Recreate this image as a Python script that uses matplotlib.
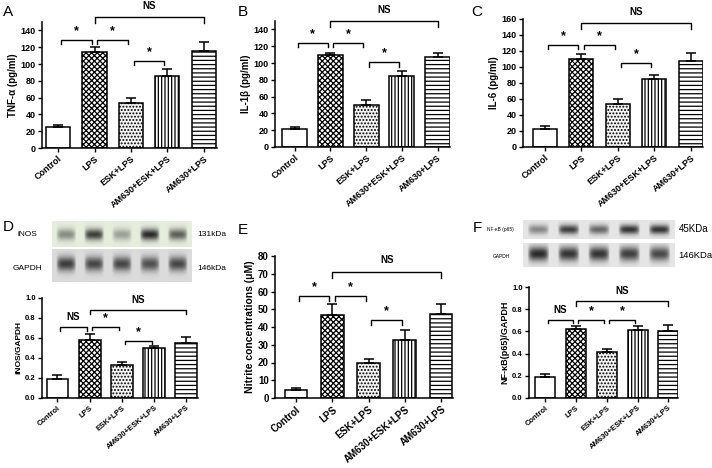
import numpy as np
import matplotlib.pyplot as plt

# Cytokine / western blot panels A-F
plt.rcParams['font.family'] = ['Liberation Sans', 'DejaVu Sans']
plt.rcParams['hatch.linewidth'] = 0.9

groups = ['Control', 'LPS', 'ESK+LPS', 'AM630+ESK+LPS', 'AM630+LPS']

tnf = [25, 114, 54, 86, 115]
tnf_err = [2, 6, 6, 8, 11]
il1b = [21.5, 109, 50, 85, 107]
il1b_err = [2.5, 3, 5.5, 6, 5]
il6 = [23, 110, 54, 85, 107]
il6_err = [3.5, 6, 5.5, 5, 11]
inos = [0.19, 0.58, 0.33, 0.50, 0.555]
inos_err = [0.045, 0.06, 0.035, 0.02, 0.055]
nitrite = [4.3, 46.5, 20, 32.8, 47.2]
nitrite_err = [1.3, 6.5, 2, 5.6, 5.8]
nfkb = [0.188, 0.62, 0.41, 0.617, 0.606]
nfkb_err = [0.027, 0.03, 0.03, 0.033, 0.05]

# significance brackets: (from, to, height, label)
tnf_sig = [(0, 1, 129, '*'), (1, 2, 129, '*'), (2, 3, 104, '*'), (1, 4, 156, 'NS')]
il1b_sig = [(0, 1, 124, '*'), (1, 2, 124, '*'), (2, 3, 101, '*'), (1, 4, 150, 'NS')]
il6_sig = [(0, 1, 128, '*'), (1, 2, 128, '*'), (2, 3, 105, '*'), (1, 4, 155, 'NS')]
inos_sig = [(0, 1, 0.71, 'NS'), (1, 2, 0.715, '*'), (2, 3, 0.575, '*'), (1, 4, 0.885, 'NS')]
nitrite_sig = [(0, 1, 57.5, '*'), (1, 2, 57.5, '*'), (2, 3, 43.7, '*'), (1, 4, 71.2, 'NS')]
nfkb_sig = [(0, 1, 0.707, 'NS'), (1, 2, 0.707, '*'), (2, 3, 0.707, '*'), (1, 4, 0.875, 'NS')]

# blot band intensities (lane order = groups)
inos_bands = [0.45, 0.8, 0.35, 0.9, 0.65]
gapdh_d_bands = [0.8, 0.75, 0.75, 0.7, 0.75]
p65_bands = [0.45, 0.8, 0.6, 0.85, 0.85]
gapdh_f_bands = [0.9, 0.85, 0.85, 0.8, 0.75]

hatches = ['', 'xxxxxx', '.....', '|||||', '----']
faces = ['white', 'white', '#f4f4f4', 'white', 'white']

W, H = 712, 468
fig = plt.figure(figsize=(W / 100, H / 100), dpi=100)


def px_axes(x0, y0, x1, y1):
    return fig.add_axes([x0 / W, 1 - y1 / H, (x1 - x0) / W, (y1 - y0) / H])


def bar_panel(rect, vals, errs, ylim, yticks, ylabel, sig, xlim, width, fs=6.5, lfs=7):
    ax = px_axes(*rect)
    x = np.arange(len(vals))
    for i in range(len(vals)):
        ax.bar(x[i], vals[i], width, color=faces[i], edgecolor='black',
               hatch=hatches[i], linewidth=1.1, zorder=2)
    ax.errorbar(x, vals, yerr=[np.zeros(len(errs)), errs], fmt='none', ecolor='black',
                elinewidth=1.1, capsize=3.5, capthick=1.1, zorder=3)
    ax.set_xlim(*xlim)
    ax.set_ylim(*ylim)
    ax.set_yticks(yticks)
    ax.set_xticks(x)
    ax.set_xticklabels(groups, rotation=40, ha='right', rotation_mode='anchor',
                       fontsize=fs, fontweight='bold')
    for t in ax.get_yticklabels():
        t.set_fontweight('bold')
        t.set_fontsize(fs)
    ax.set_ylabel(ylabel, fontsize=lfs, fontweight='bold', labelpad=2)
    ax.spines['top'].set_visible(False)
    ax.spines['right'].set_visible(False)
    ax.spines['left'].set_linewidth(1.1)
    ax.spines['bottom'].set_linewidth(1.1)
    ax.tick_params(direction='out', length=3, width=1, pad=1.5)
    span = ylim[1] - ylim[0]
    for a, b, y, lab in sig:
        if b - a == 1:
            xa, xb = a + 0.08, b - 0.08
            tick = 0.035 * span
        else:
            xa, xb = a, b
            tick = 0.045 * span
        ax.plot([xa, xa, xb, xb], [y - tick, y, y, y - tick], color='black',
                lw=1.0, clip_on=False, zorder=4)
        if lab == '*':
            ax.text((a + b) / 2, y + 0.02 * span, lab, ha='center', va='bottom',
                    fontsize=9, fontweight='bold', clip_on=False)
        else:
            ax.text((a + b) / 2, y + 0.045 * span, lab, ha='center', va='bottom',
                    fontsize=7, fontweight='bold', clip_on=False)
    return ax


def blot(rect, bands, bg, band_y=0.5, band_h=0.22, band_w=0.36):
    ax = px_axes(*rect)
    h, w = 60, 250
    ys = np.linspace(0, 1, h)[:, None]
    xs = np.linspace(0, len(bands), w)[None, :]
    dark = np.zeros((h, w))
    for k, v in enumerate(bands):
        px = np.clip(1 - np.abs((xs - (k + 0.5)) / band_w) ** 4, 0, 1)
        py = np.exp(-((ys - band_y) / band_h) ** 2)
        dark = np.maximum(dark, v * px * py)
    img = np.array(bg)[None, None, :] * (1 - dark[:, :, None]) + 0.08 * dark[:, :, None]
    ax.imshow(img, aspect='auto', interpolation='bilinear')
    ax.axis('off')
    return ax


# top row
bar_panel((42, 22, 217, 148), tnf, tnf_err, (0, 150), range(0, 141, 20),
          'TNF-\u03b1 (pg/ml)', tnf_sig, (-0.44, 4.36), 0.66)
bar_panel((275, 21, 450, 147), il1b, il1b_err, (0, 150), range(0, 141, 20),
          'IL-1\u03b2 (pg/ml)', il1b_sig, (-0.55, 4.35), 0.7)
bar_panel((523, 19, 703, 147), il6, il6_err, (0, 160), range(0, 161, 20),
          'IL-6 (pg/ml)', il6_sig, (-0.6, 4.34), 0.66)

# bottom row
bar_panel((42, 298, 198, 398), inos, inos_err, (0, 1.0), np.arange(0, 1.01, 0.2),
          'iNOS/GAPDH', inos_sig, (-0.48, 4.36), 0.68, fs=5.5, lfs=6)
bar_panel((275, 256, 453, 398), nitrite, nitrite_err, (0, 80), range(0, 81, 10),
          'Nitrite concentrations (\u03bcM)', nitrite_sig, (-0.58, 4.33), 0.63, fs=7, lfs=7.5)
bar_panel((529, 287, 678, 398), nfkb, nfkb_err, (0, 1.0), np.arange(0, 1.01, 0.2),
          'NF-\u03baB(p65)/GAPDH', nfkb_sig, (-0.52, 4.31), 0.65, fs=5.5, lfs=6.5)

for ax in fig.axes[3:6:2]:
    ax.yaxis.set_major_formatter(plt.FormatStrFormatter('%.1f'))

# blots
blot((52, 221, 192, 247), inos_bands, (0.90, 0.93, 0.87), band_y=0.52)
blot((52, 249, 192, 282), gapdh_d_bands, (0.86, 0.86, 0.86), band_y=0.45)
blot((523, 220, 675, 239), p65_bands, (0.90, 0.90, 0.90), band_y=0.5, band_h=0.25)
blot((523, 243, 675, 267), gapdh_f_bands, (0.90, 0.90, 0.90), band_y=0.45, band_h=0.3)

fig.text(17 / W, 1 - 235 / H, 'iNOS', fontsize=6, va='center')
fig.text(13 / W, 1 - 269 / H, 'GAPDH', fontsize=6, va='center')
fig.text(197 / W, 1 - 234 / H, '131kDa', fontsize=6, va='center')
fig.text(197 / W, 1 - 269 / H, '146kDa', fontsize=6, va='center')
fig.text(487 / W, 1 - 229 / H, 'NF-\u03baB (p65)', fontsize=3.5, va='center')
fig.text(493 / W, 1 - 256 / H, 'GAPDH', fontsize=3.5, va='center')
fig.text(679 / W, 1 - 229 / H, '45KDa', fontsize=7, va='center')
fig.text(678 / W, 1 - 256 / H, '146KDa', fontsize=6.8, va='center')

# panel letters
for lab, x, y in [('A', 3, 12), ('B', 238, 12), ('C', 471, 12),
                  ('D', 3, 227), ('E', 238, 230), ('F', 473, 228)]:
    fig.text(x / W, 1 - y / H, lab, fontsize=11, va='center')

fig.savefig('out.png', dpi=100)
